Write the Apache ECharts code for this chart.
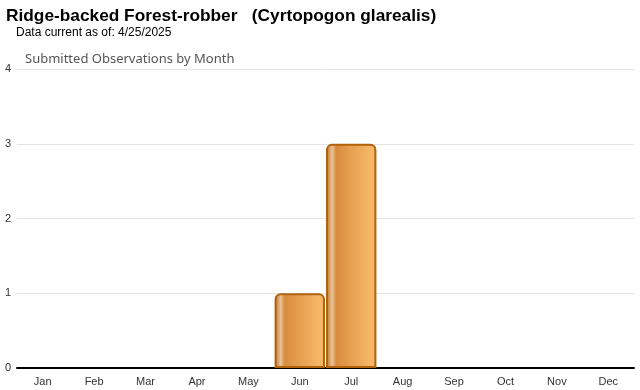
<!DOCTYPE html>
<html><head><meta charset="utf-8">
<script src="https://cdn.jsdelivr.net/npm/echarts@6/dist/echarts.min.js"></script>
<style>html,body{margin:0;padding:0;background:#fff}#c{width:640px;height:390px}</style>
</head><body><div id="c"></div>
<script>
const months = ['Jan','Feb','Mar','Apr','May','Jun','Jul','Aug','Sep','Oct','Nov','Dec'];
const observations = [0,0,0,0,0,1,3,0,0,0,0,0];
const yTicks = [0,1,2,3,4];

const chart = echarts.init(document.getElementById('c'), null, {renderer:'canvas'});
const barColor = new echarts.graphic.LinearGradient(0,0,1,0,[
  {offset:0, color:'#b9680f'},
  {offset:0.05, color:'#cf9150'},
  {offset:0.12, color:'#e8c49a'},
  {offset:0.2, color:'#d88c3c'},
  {offset:0.5, color:'#e6a050'},
  {offset:0.9, color:'#f7b867'},
  {offset:1, color:'#f0ae5e'}
]);
chart.setOption({
  animation:false,
  title:[
    {text:'Ridge-backed Forest-robber   (Cyrtopogon glarealis)', left:1, top:3,
     textStyle:{fontFamily:'Liberation Sans, Arial', fontWeight:'bold', fontSize:17.3, color:'#000'}},
    {text:'Data current as of: 4/25/2025', left:11, top:22,
     textStyle:{fontFamily:'Liberation Sans, Arial', fontWeight:'normal', fontSize:12, color:'#000'}},
    {text:'Submitted Observations by Month', left:20, top:48,
     textStyle:{fontFamily:'Noto Sans, sans-serif', fontWeight:'normal', fontSize:13, color:'#555'}}
  ],
  grid:{left:17, right:6, top:69, bottom:22, containLabel:false},
  xAxis:{type:'category', data:months,
    axisLine:{lineStyle:{color:'#000', width:2}},
    axisTick:{alignWithLabel:true, length:4, lineStyle:{color:'#ddd'}},
    axisLabel:{color:'#333', fontSize:11, fontFamily:'Liberation Sans, Arial', margin:8}},
  yAxis:{type:'value', min:yTicks[0], max:yTicks[yTicks.length-1], interval:1,
    axisLine:{show:false}, axisTick:{show:false},
    axisLabel:{color:'#333', fontSize:11, fontFamily:'Liberation Sans, Arial', margin:6},
    splitLine:{lineStyle:{color:'#e3e3e3'}}},
  series:[{type:'bar', data:observations.map(v => v === 0 ? null : v), barCategoryGap:'2%',
    itemStyle:{color:barColor, borderColor:'#b0630c', borderWidth:2, borderRadius:[5,5,0,0]}}]
});
</script></body></html>
